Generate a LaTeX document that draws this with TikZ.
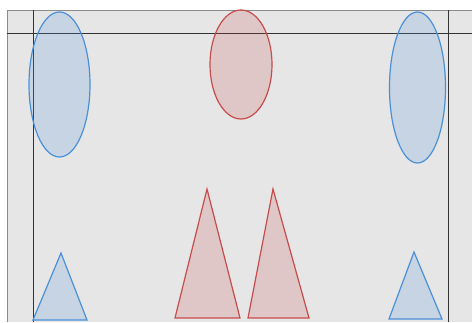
\documentclass[tikz,border=0pt]{standalone}
\usepackage{tikz}
\definecolor{bggrey}{HTML}{E6E6E6}
\definecolor{edgegrey}{HTML}{8C8C8C}
\definecolor{guidegrey}{HTML}{333333}
\definecolor{shpblue}{HTML}{4A90D9}
\definecolor{shpred}{HTML}{C84B4B}

\begin{document}
\begin{tikzpicture}[
  x=1pt, y=-1pt,
  guide/.style   = {draw=guidegrey, line width=1pt},
  blueshp/.style = {draw=shpblue, fill=shpblue, fill opacity=0.2, line width=1.2pt},
  redshp/.style  = {draw=shpred,  fill=shpred,  fill opacity=0.2, line width=1.2pt},
]
\useasboundingbox (0,0) rectangle (472,322);

% ================= sheet and guides ====================================
\fill[bggrey] (7,10) rectangle (472,322);
\draw[edgegrey, line width=1pt] (7,322) -- (7,10) -- (472,10);
\draw[guide] (7,33) -- (472,33);
\foreach \x in {33,448} {\draw[guide] (\x,10) -- (\x,322);}

% ================= ellipses ============================================
\draw[blueshp] (59.5,84.5)  ellipse [x radius=30.5pt, y radius=72.5pt];
\draw[redshp]  (241,64.5)   ellipse [x radius=31pt,   y radius=54.5pt];
\draw[blueshp] (417.5,87.5) ellipse [x radius=28pt,   y radius=75.5pt];

% ================= triangles ===========================================
\draw[blueshp] (33,320)  -- (61,253)  -- (87,320)  -- cycle;
\draw[redshp]  (175,318) -- (207,189) -- (240,318) -- cycle;
\draw[redshp]  (248,318) -- (273,189) -- (309,318) -- cycle;
\draw[blueshp] (389,319) -- (414,252) -- (442,319) -- cycle;

\end{tikzpicture}
\end{document}
